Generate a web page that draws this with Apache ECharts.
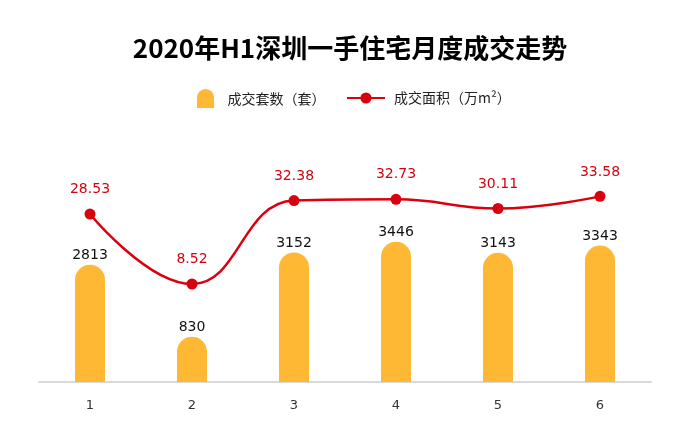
<!DOCTYPE html>
<html><head><meta charset="utf-8">
<script src="https://cdn.jsdelivr.net/npm/echarts@6/dist/echarts.min.js"></script>
<style>html,body{margin:0;padding:0;background:#fff}#c{width:700px;height:431px}</style>
</head><body><div id="c"></div>
<script>
const categories = ['1','2','3','4','5','6'];
const units = [2813, 830, 3152, 3446, 3143, 3343];
const area = [28.53, 8.52, 32.38, 32.73, 30.11, 33.58];
const title = '2020年H1深圳一手住宅月度成交走势';
const nameUnits = '成交套数（套）';
const nameArea = '成交面积（万m²）';

const orange = '#FFB833';
const red = '#D9000F';
const font = '"Noto Sans CJK SC", "Noto Sans", sans-serif';
const numFont = '"DejaVu Sans", sans-serif';
const chart = echarts.init(document.getElementById('c'));
chart.setOption({
  animation: false,
  textStyle: {fontFamily: font},
  title: {text: title, left: 'center', top: 30,
    textStyle: {fontSize: 26, fontWeight: 'bold', color: '#000', fontFamily: font}},
  legend: [
    {data: [{name: nameUnits, icon: 'path://M0,20 L0,9 A9,9 0 0 1 18,9 L18,20 Z'}], left: 192, top: 84,
      itemWidth: 18, itemHeight: 19, itemGap: 10,
      textStyle: {fontSize: 14, color: '#222', fontFamily: font, padding: [0, 0, 0, 8]}},
    {data: [nameArea], left: 341, top: 86, itemWidth: 38, itemHeight: 14,
      textStyle: {fontSize: 14, color: '#222', fontFamily: font, padding: [0, 0, 0, 4]}}
  ],
  grid: {left: 39, right: 49, top: 55, bottom: 49},
  xAxis: {type: 'category', data: categories,
    axisLine: {lineStyle: {color: '#d9d9d9', width: 2}},
    axisTick: {show: false},
    axisLabel: {color: '#333', fontSize: 13, margin: 17, fontFamily: numFont}},
  yAxis: [
    {type: 'value', min: 0, max: 9000, show: false, splitLine: {show: false}},
    {type: 'value', min: -19.5, max: 74, show: false, splitLine: {show: false}}
  ],
  series: [
    {name: nameUnits, type: 'bar', data: units, barWidth: 30, yAxisIndex: 0,
      itemStyle: {color: orange},
      label: {show: true, position: 'top', distance: 17, color: '#111', fontSize: 14, fontFamily: numFont}},
    {name: 'cap', type: 'pictorialBar', data: units, yAxisIndex: 0,
      symbol: 'circle', symbolSize: [30, 30], symbolPosition: 'end', symbolOffset: [0, '-50%'],
      itemStyle: {color: orange}, z: 1},
    {name: nameArea, type: 'line', data: area, yAxisIndex: 1, smooth: 0.45,
      symbol: 'circle', symbolSize: 11,
      lineStyle: {color: red, width: 2.5}, itemStyle: {color: red},
      label: {show: true, position: 'top', distance: 12, color: '#D7000F', fontSize: 14, fontFamily: numFont}, z: 5}
  ]
});
</script></body></html>
